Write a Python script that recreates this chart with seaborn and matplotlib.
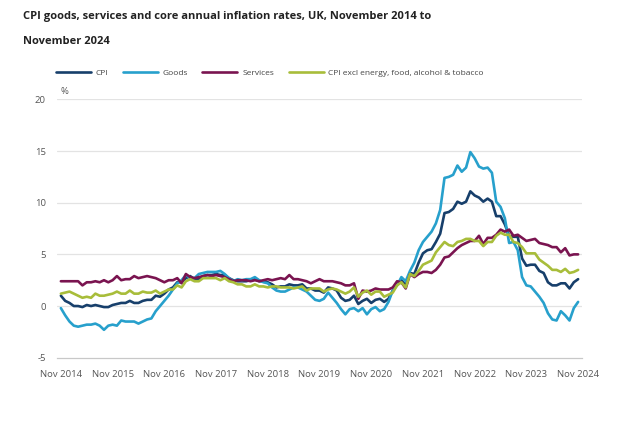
import numpy as np
import pandas as pd
import matplotlib
matplotlib.use("Agg")
import matplotlib.pyplot as plt
from matplotlib.lines import Line2D
import seaborn as sns

# ---------------- data (monthly, Nov 2014 .. Nov 2024) ----------------
cpi = [1.0, 0.5,
       0.3, 0.0, 0.0, -0.1, 0.1, 0.0, 0.1, 0.0, -0.1, -0.1, 0.1, 0.2,
       0.3, 0.3, 0.5, 0.3, 0.3, 0.5, 0.6, 0.6, 1.0, 0.9, 1.2, 1.6,
       1.8, 2.3, 2.3, 2.7, 2.9, 2.6, 2.6, 2.9, 3.0, 3.0, 3.1, 3.0,
       3.0, 2.7, 2.5, 2.4, 2.4, 2.4, 2.5, 2.7, 2.4, 2.4, 2.3, 2.1,
       1.8, 1.9, 1.9, 2.1, 2.0, 2.0, 2.1, 1.7, 1.7, 1.5, 1.5, 1.3,
       1.8, 1.7, 1.5, 0.8, 0.5, 0.6, 1.0, 0.2, 0.5, 0.7, 0.3, 0.6,
       0.7, 0.4, 0.7, 1.5, 2.1, 2.5, 2.0, 3.2, 3.1, 4.2, 5.1, 5.4,
       5.5, 6.2, 7.0, 9.0, 9.1, 9.4, 10.1, 9.9, 10.1, 11.1, 10.7, 10.5,
       10.1, 10.4, 10.1, 8.7, 8.7, 7.9, 6.8, 6.7, 6.7, 4.6, 3.9, 4.0,
       4.0, 3.4, 3.2, 2.3, 2.0, 2.0, 2.2, 2.2, 1.7, 2.3, 2.6]

goods = [-0.2, -0.9,
         -1.5, -1.9, -2.0, -1.9, -1.8, -1.8, -1.7, -1.9, -2.3, -1.9, -1.8, -1.9,
         -1.4, -1.5, -1.5, -1.5, -1.7, -1.5, -1.3, -1.2, -0.5, 0.0, 0.5, 1.0,
         1.6, 2.2, 2.5, 3.0, 2.7, 2.7, 3.1, 3.2, 3.3, 3.3, 3.3, 3.4,
         3.1, 2.7, 2.4, 2.6, 2.5, 2.6, 2.6, 2.8, 2.5, 2.3, 2.2, 1.8,
         1.5, 1.4, 1.4, 1.6, 1.8, 1.8, 1.6, 1.4, 1.0, 0.6, 0.5, 0.7,
         1.3, 0.8, 0.3, -0.3, -0.8, -0.3, -0.2, -0.5, -0.2, -0.8, -0.3, -0.1,
         -0.5, -0.3, 0.4, 1.5, 2.0, 2.8, 2.4, 3.4, 4.2, 5.4, 6.2, 6.7,
         7.2, 8.0, 9.3, 12.4, 12.5, 12.7, 13.6, 13.0, 13.4, 14.9, 14.3, 13.5,
         13.3, 13.4, 12.9, 10.1, 9.6, 8.5, 6.1, 6.2, 5.4, 2.8, 2.0, 1.9,
         1.4, 0.9, 0.3, -0.7, -1.3, -1.4, -0.5, -0.9, -1.4, -0.2, 0.4]

services = [2.4, 2.4,
            2.4, 2.4, 2.4, 2.0, 2.3, 2.3, 2.4, 2.3, 2.5, 2.3, 2.5, 2.9,
            2.5, 2.6, 2.6, 2.9, 2.7, 2.8, 2.9, 2.8, 2.7, 2.5, 2.3, 2.5,
            2.5, 2.7, 2.2, 3.1, 2.8, 2.7, 2.8, 2.9, 3.0, 2.9, 3.0, 2.9,
            2.8, 2.6, 2.4, 2.5, 2.5, 2.5, 2.4, 2.5, 2.4, 2.5, 2.6, 2.5,
            2.6, 2.7, 2.6, 3.0, 2.6, 2.6, 2.5, 2.4, 2.2, 2.4, 2.6, 2.4,
            2.4, 2.4, 2.3, 2.2, 2.0, 2.0, 2.2, 0.7, 1.5, 1.4, 1.5, 1.7,
            1.6, 1.6, 1.6, 1.8, 2.4, 2.3, 1.7, 3.1, 2.8, 3.1, 3.3, 3.3,
            3.2, 3.5, 4.0, 4.7, 4.8, 5.2, 5.6, 5.9, 6.1, 6.3, 6.3, 6.8,
            6.0, 6.6, 6.6, 6.9, 7.4, 7.2, 7.4, 6.8, 6.9, 6.6, 6.3, 6.4,
            6.5, 6.1, 6.0, 5.9, 5.7, 5.7, 5.2, 5.6, 4.9, 5.0, 5.0]

core = [1.2, 1.3,
        1.4, 1.2, 1.0, 0.8, 0.9, 0.8, 1.2, 1.0, 1.0, 1.1, 1.2, 1.4,
        1.2, 1.2, 1.5, 1.2, 1.2, 1.4, 1.3, 1.3, 1.5, 1.2, 1.4, 1.6,
        1.6, 2.0, 1.8, 2.4, 2.6, 2.4, 2.4, 2.7, 2.7, 2.7, 2.7, 2.5,
        2.7, 2.4, 2.3, 2.1, 2.1, 1.9, 1.9, 2.1, 1.9, 1.9, 1.8, 1.9,
        1.9, 1.8, 1.8, 1.8, 1.7, 1.8, 1.9, 1.5, 1.7, 1.7, 1.7, 1.4,
        1.6, 1.7, 1.6, 1.4, 1.2, 1.4, 1.8, 0.9, 1.3, 1.5, 1.1, 1.4,
        1.4, 0.9, 1.1, 1.3, 2.0, 2.3, 1.8, 3.1, 2.9, 3.4, 4.0, 4.2,
        4.4, 5.2, 5.7, 6.2, 5.9, 5.8, 6.2, 6.3, 6.5, 6.5, 6.3, 6.3,
        5.8, 6.2, 6.2, 6.8, 7.1, 6.9, 6.9, 6.2, 6.1, 5.7, 5.1, 5.1,
        5.1, 4.5, 4.2, 3.9, 3.5, 3.5, 3.3, 3.6, 3.2, 3.3, 3.5]

series_names = ["CPI", "Goods", "Services",
                "CPI excl energy, food, alcohol & tobacco"]
series_colors = ["#173f6b", "#27a0cc", "#7a1450", "#a8bd3a"]
tick_labels = ["Nov 2014", "Nov 2015", "Nov 2016", "Nov 2017", "Nov 2018",
               "Nov 2019", "Nov 2020", "Nov 2021", "Nov 2022", "Nov 2023",
               "Nov 2024"]
y_ticks = [-5, 0, 5, 10, 15, 20]

title_line1 = "CPI goods, services and core annual inflation rates, UK, November 2014 to"
title_line2 = "November 2024"

# ---------------- build table ----------------
frames = []
for name, vals in zip(series_names, [cpi, goods, services, core]):
    frames.append(pd.DataFrame({"month": np.arange(len(vals)),
                                "value": vals, "series": name}))
df = pd.concat(frames, ignore_index=True)

# ---------------- plot ----------------
sns.set_style("white")
plt.rcParams["font.family"] = ["Open Sans", "DejaVu Sans"]

W, H = 634, 421
fig = plt.figure(figsize=(W / 100, H / 100), dpi=100)
ax = fig.add_axes([57 / W, 1 - 357.7 / H, 525 / W, 258.3 / H])

sns.lineplot(data=df, x="month", y="value", hue="series",
             hue_order=series_names, palette=series_colors,
             linewidth=1.9, ax=ax, legend=False, estimator=None)

n = len(cpi)
ax.set_xlim(-0.9, n - 1 + 0.9)
ax.set_ylim(-5, 20)
ax.set_xlabel("")
ax.set_ylabel("")

ax.set_yticks(y_ticks)
ax.set_yticklabels([str(v) for v in y_ticks])
ax.set_xticks(np.arange(0, n, 12))
ax.set_xticklabels(tick_labels)

for v in y_ticks[1:]:
    ax.axhline(v, color="#e3e3e3", linewidth=0.9, zorder=0)

for s in ["top", "right", "left"]:
    ax.spines[s].set_visible(False)
ax.spines["bottom"].set_color("#c8c8c8")
ax.spines["bottom"].set_linewidth(0.9)

ax.tick_params(axis="y", length=0, pad=8, labelsize=6.8, labelcolor="#555555")
ax.tick_params(axis="x", direction="out", length=6, width=0.8, color="#c8c8c8",
               pad=3, labelsize=6.8, labelcolor="#555555")

ax.text(0.006, 1.012, "%", transform=ax.transAxes, ha="left", va="bottom",
        fontsize=6.8, color="#555555")

# title
fig.text(23 / W, 1 - 16 / H, title_line1, ha="left", va="center",
         fontsize=8.0, fontweight="bold", color="#222222")
fig.text(23 / W, 1 - 42 / H, title_line2, ha="left", va="center",
         fontsize=8.0, fontweight="bold", color="#222222")

# legend
handles = [Line2D([0], [0], color=c, lw=1.9) for c in series_colors]
fig.legend(handles, series_names, loc="center left",
           bbox_to_anchor=(56 / W, 1 - 73 / H), ncol=4, frameon=False,
           fontsize=6.0, labelcolor="#444444", handlelength=4.2,
           handletextpad=0.6, columnspacing=1.7, borderpad=0,
           borderaxespad=0)

fig.savefig("out.png", dpi=100)
